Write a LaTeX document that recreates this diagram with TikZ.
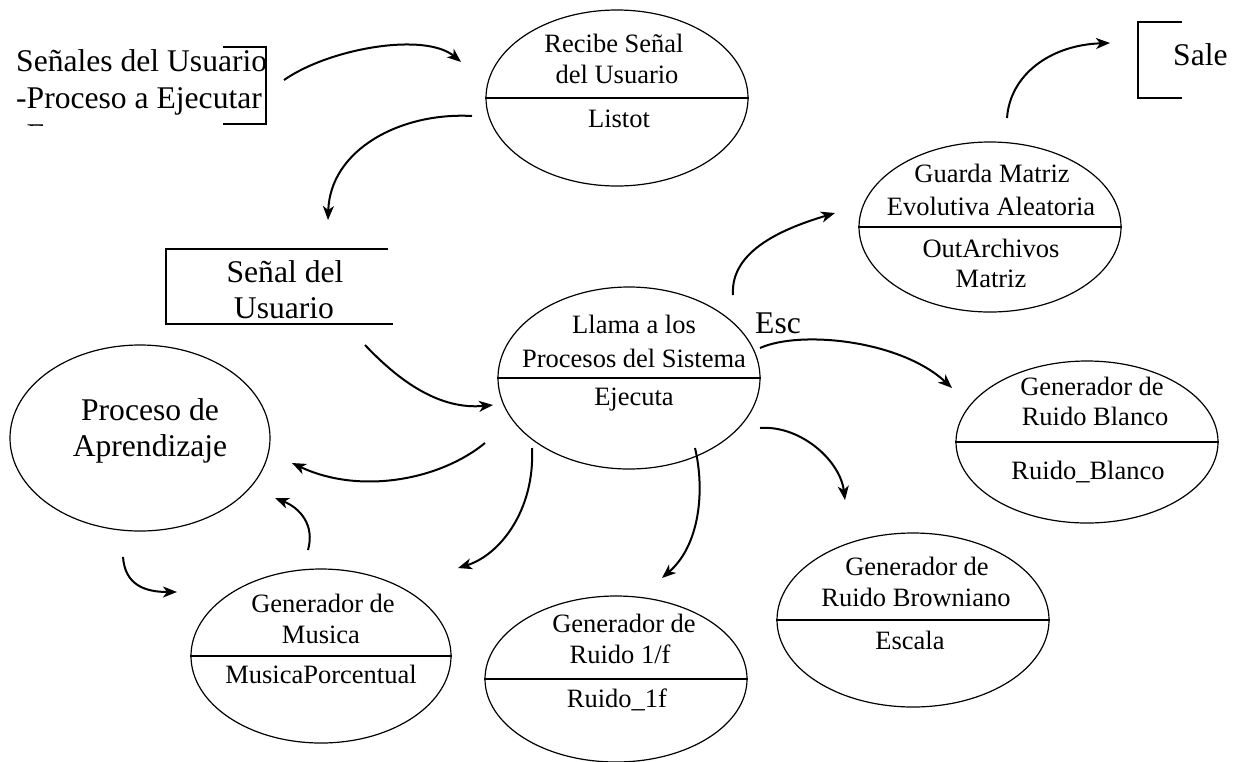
\documentclass[tikz,border=0pt]{standalone}
\usepackage{fontspec}
\setmainfont{Liberation Serif}
\usetikzlibrary{shapes.geometric,arrows.meta}
\begin{document}
\begin{tikzpicture}[x=1pt,y=-1pt,
  proc/.style={draw, ellipse, line width=1.2pt, inner sep=0pt},
  sm/.style={anchor=base, inner sep=0pt, font=\fontsize{26.5}{31}\selectfont},
  lg/.style={anchor=base, inner sep=0pt, font=\fontsize{31.6}{37}\selectfont},
  arr/.style={line width=2pt, -{Stealth[length=14pt,width=11pt,inset=4pt]}},
  divl/.style={line width=2pt},
  boxl/.style={line width=1.5pt}]
\useasboundingbox (0,0) rectangle (1238,761);

% ---------- ellipses ----------
\node[proc, minimum width=262pt, minimum height=176pt] (recibe) at (617,98) {};
\draw[divl] (recibe.west) -- (recibe.east);
\node[sm] (t1a) at (614,52) {Recibe Señal};
\node[sm] (t1b) at (617,83) {del Usuario};
\node[sm] (t1c) at (619,127) {Listot};

\node[proc, minimum width=262pt, minimum height=182pt] (llama) at (629,378) {};
\draw[divl] (llama.west) -- (llama.east);
\node[sm] (t2a) at (634,333) {Llama a los};
\node[sm] (t2b) at (634,367) {Procesos del Sistema};
\node[sm] (t2c) at (634,405) {Ejecuta};

\node[proc, minimum width=262pt, minimum height=170pt] (guarda) at (990,227) {};
\draw[divl] (guarda.west) -- (guarda.east);
\node[sm] (t3a) at (992,182) {Guarda Matriz};
\node[sm] (t3b) at (991,215) {Evolutiva Aleatoria};
\node[sm] (t3c) at (991,257) {OutArchivos};
\node[sm] (t3d) at (991,287) {Matriz};

\node[proc, minimum width=262pt, minimum height=162pt] (blanco) at (1087,442) {};
\draw[divl] (blanco.west) -- (blanco.east);
\node[sm] (t4a) at (1092,395) {Generador de};
\node[sm] (t4b) at (1095,425) {Ruido Blanco};
\node[sm] (t4c) at (1088,479) {Ruido\_Blanco};

\node[proc, minimum width=272pt, minimum height=174pt] (brown) at (913,620) {};
\draw[divl] (brown.west) -- (brown.east);
\node[sm] (t5a) at (917,575) {Generador de};
\node[sm] (t5b) at (916,606) {Ruido Browniano};
\node[sm] (t5c) at (910,649) {Escala};

\node[proc, minimum width=262pt, minimum height=166pt] (unof) at (616,679) {};
\draw[divl] (unof.west) -- (unof.east);
\node[sm] (t6a) at (624,632) {Generador de};
\node[sm] (t6b) at (620,663) {Ruido 1/f};
\node[sm] (t6c) at (617,707) {Ruido\_1f};

\node[proc, minimum width=260pt, minimum height=174pt] (musica) at (321,656) {};
\draw[divl] (musica.west) -- (musica.east);
\node[sm] (t7a) at (323,612) {Generador de};
\node[sm] (t7b) at (321,643) {Musica};
\node[sm] (t7c) at (321,683) {MusicaPorcentual};

\node[proc, minimum width=260pt, minimum height=186pt] (aprend) at (140,438) {};
\node[lg] (t8a) at (150,420) {Proceso de};
\node[lg] (t8b) at (150,456) {Aprendizaje};

% ---------- stores ----------
\begin{scope}
\clip (0,0) rectangle (280,125);
\node[lg, anchor=base west] (s1) at (16,71) {Señales del Usuario};
\node[lg, anchor=base west] (s2) at (16,108) {-Proceso a Ejecutar};
\node[lg, anchor=base west] (s3) at (16,145) {-Esc};
\end{scope}
\coordinate (b1a) at (223,47);
\coordinate (b1b) at (266,47);
\coordinate (b1c) at (266,124);
\coordinate (b1d) at (223,124);
\draw[boxl] (b1a) -- (b1b) -- (b1c) -- (b1d);

\coordinate (b2a) at (1182,22);
\coordinate (b2b) at (1138,22);
\coordinate (b2c) at (1138,98);
\coordinate (b2d) at (1182,98);
\draw[boxl] (b2a) -- (b2b) -- (b2c) -- (b2d);
\node[lg, anchor=base west] (sale) at (1173,65) {Sale};

\coordinate (b3a) at (388,249);
\coordinate (b3b) at (166,249);
\coordinate (b3c) at (166,324);
\coordinate (b3d) at (393,324);
\draw[boxl] (b3a) -- (b3b) -- (b3c) -- (b3d);
\node[lg] (su1) at (285,282) {Señal del};
\node[lg] (su2) at (284,318) {Usuario};

\node[lg] (esc) at (778,333) {Esc};

% ---------- connectors ----------
\coordinate (a1s) at (284,80);  \coordinate (a1e) at (461,62);
\draw[arr] (a1s) .. controls (330,48) and (425,32) .. (a1e);
\coordinate (a2s) at (472,116); \coordinate (a2e) at (328,220);
\draw[arr] (a2s) .. controls (400,112) and (330,150) .. (a2e);
\coordinate (a3s) at (365,345); \coordinate (a3e) at (493,405);
\draw[arr] (a3s) .. controls (400,382) and (440,410) .. (a3e);
\coordinate (a4s) at (485,443); \coordinate (a4e) at (292,463);
\draw[arr] (a4s) .. controls (440,480) and (360,495) .. (a4e);
\coordinate (a5s) at (308,550); \coordinate (a5e) at (275,498);
\draw[arr] (a5s) .. controls (315,525) and (300,508) .. (a5e);
\coordinate (a6s) at (123,557); \coordinate (a6e) at (177,592);
\draw[arr] (a6s) .. controls (125,585) and (145,592) .. (a6e);
\coordinate (a7s) at (532,448); \coordinate (a7e) at (458,568);
\draw[arr] (a7s) .. controls (535,510) and (500,555) .. (a7e);
\coordinate (a8s) at (695,448); \coordinate (a8e) at (662,578);
\draw[arr] (a8s) .. controls (705,490) and (700,545) .. (a8e);
\coordinate (a9s) at (760,428); \coordinate (a9e) at (845,500);
\draw[arr] (a9s) .. controls (800,425) and (840,460) .. (a9e);
\coordinate (a10s) at (760,348); \coordinate (a10e) at (952,388);
\draw[arr] (a10s) .. controls (800,330) and (900,340) .. (a10e);
\coordinate (a11s) at (733,295); \coordinate (a11e) at (835,213);
\draw[arr] (a11s) .. controls (730,250) and (785,228) .. (a11e);
\coordinate (a12s) at (1007,118); \coordinate (a12e) at (1110,43);
\draw[arr] (a12s) .. controls (1010,75) and (1050,45) .. (a12e);
\end{tikzpicture}
\end{document}
